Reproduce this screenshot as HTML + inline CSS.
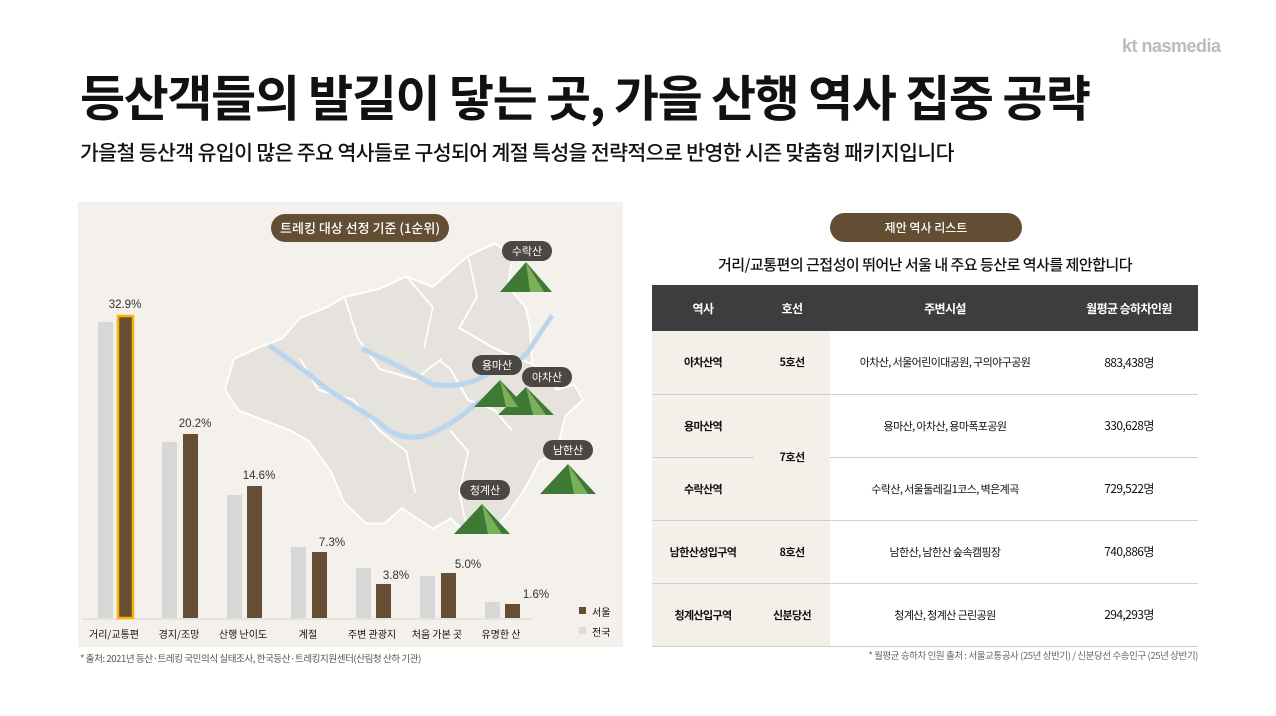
<!DOCTYPE html>
<html><head><meta charset="utf-8">
<style>
*{margin:0;padding:0;box-sizing:border-box}
body{width:1276px;height:716px;background:#fff;font-family:"Liberation Sans","Noto Sans CJK KR",sans-serif;position:relative;overflow:hidden;color:#111}
.abs{position:absolute}
.t{white-space:nowrap}
.title{left:80px;top:65px;font-size:49px;font-weight:bold;letter-spacing:-1.4px;color:#111;font-family:"Noto Sans CJK KR",sans-serif;line-height:62px}
.sub{left:80px;top:137px;font-size:20.5px;letter-spacing:-0.6px;font-family:"Noto Sans CJK KR",sans-serif;font-weight:500;color:#111;line-height:28px}
.logo{left:1122px;top:36px;font-size:18px;color:#bbb;font-weight:bold;letter-spacing:-0.5px}
.panel{left:78px;top:202px;width:545px;height:445px;background:#f4f0eb}
.pill{background:#644e33;color:#fff;border-radius:15px;text-align:center;font-family:"Noto Sans CJK KR",sans-serif;font-weight:500}
.tag{background:#4a4744;color:#fff;border-radius:10px;text-align:center;font-size:11px;font-family:"Noto Sans CJK KR",sans-serif;height:20px;line-height:20px;width:50px}
.xl{font-size:10px;font-family:"Noto Sans CJK KR",sans-serif;text-align:center;width:64px;top:626px}
.val{font-size:11.5px;color:#333;width:50px;text-align:center}
table{border-collapse:collapse;position:absolute;left:652px;top:285px;width:546px;font-family:"Noto Sans CJK KR",sans-serif;font-size:11px;letter-spacing:-0.6px}
th{background:#3d3d3d;color:#fff;height:46px;font-weight:bold;font-size:12px}
td{height:63px;text-align:center;border-bottom:1px solid #cfcfcf}
td.b{background:#f3efe9;font-weight:bold}
</style></head><body>
<div class="abs t logo">kt nasmedia</div>
<div class="abs t title">등산객들의 발길이 닿는 곳, 가을 산행 역사 집중 공략</div>
<div class="abs t sub">가을철 등산객 유입이 많은 주요 역사들로 구성되어 계절 특성을 전략적으로 반영한 시즌 맞춤형 패키지입니다</div>

<div class="abs panel"></div>
<svg class="abs" style="left:78px;top:202px" width="545" height="445">
<g transform="translate(125,-8) scale(0.884,1.03)">
<g fill="#e6e2dd" stroke="#fff" stroke-width="2">
<path d="M300 60 L330 48 L350 60 L345 90 L365 110 L370 130 L372 165 L390 175 L400 190 L420 185 L430 200 L410 215 L400 250 L380 260 L365 285 L345 310 L330 325 L300 330 L280 315 L260 325 L225 305 L205 320 L185 320 L160 300 L145 270 L120 240 L100 230 L70 220 L40 210 L25 190 L35 160 L60 150 L90 140 L110 120 L140 110 L160 100 L200 92 L230 80 L260 90 L280 75 Z"/>
<path d="M230 80 L260 110 L250 150 L280 170 L300 200 L330 210 L350 230"/>
<path d="M160 100 L175 140 L200 170 L240 180 L270 160"/>
<path d="M110 160 L130 190 L170 200 L200 230 L230 250 L240 290"/>
<path d="M300 60 L310 100 L290 130 L330 150 L372 165"/>
<path d="M280 230 L300 250 L290 290 L300 330"/>
</g>
<path d="M180 150 Q240 175 260 185 Q300 190 330 170 Q360 165 370 150 Q385 130 395 118" fill="none" stroke="#b9d6ee" stroke-width="5"/>
<path d="M75 147 L120 175 Q140 190 160 200 L200 222 Q220 240 250 235" fill="none" stroke="#b9d6ee" stroke-width="5"/>
<path d="M250 235 Q280 225 300 210 Q320 195 340 195" fill="none" stroke="#b9d6ee" stroke-width="5"/>
</g>
<rect x="193" y="12" width="178" height="28" rx="14" fill="#644e33"/>
<g fill="#3f7a35">
<polygon points="422,90 448,60 474,90"/><polygon points="396,205 422,178 448,205"/><polygon points="420,213 448,185 476,213"/><polygon points="462,292 490,262 518,292"/><polygon points="376,332 404,302 432,332"/>
</g>
<g fill="#7bb05a">
<polygon points="448,60 466,90 452,90"/><polygon points="422,178 440,205 428,205"/><polygon points="448,185 468,213 455,213"/><polygon points="490,262 510,292 496,292"/><polygon points="404,302 424,332 410,332"/>
</g>
<line x1="4" y1="417" x2="455" y2="417" stroke="#d8d4cf" stroke-width="1"/>
<g fill="#d7d7d7">
<rect x="20" y="120" width="15" height="296"/><rect x="84" y="240" width="15" height="176"/><rect x="149" y="293" width="15" height="123"/><rect x="213" y="345" width="15" height="71"/><rect x="278" y="366" width="15" height="50"/><rect x="342" y="374" width="15" height="42"/><rect x="407" y="400" width="15" height="16"/>
</g>
<g fill="#654e33">
<rect x="40" y="114" width="15" height="302" stroke="#f7b500" stroke-width="2.5"/><rect x="105" y="232" width="15" height="184"/><rect x="169" y="284" width="15" height="132"/><rect x="234" y="350" width="15" height="66"/><rect x="298" y="382" width="15" height="34"/><rect x="363" y="371" width="15" height="45"/><rect x="427" y="402" width="15" height="14"/>
</g>
<rect x="501" y="405" width="7" height="7" fill="#654e33"/><rect x="501" y="425" width="7" height="7" fill="#dcdcdc"/>
</svg>
<div class="abs t pill" style="left:271px;top:214px;width:178px;height:28px;line-height:28px;font-size:13px;background:transparent">트레킹 대상 선정 기준 (1순위)</div>
<div class="abs t tag" style="left:502px;top:241px">수락산</div>
<div class="abs t tag" style="left:472px;top:355px">용마산</div>
<div class="abs t tag" style="left:522px;top:367px">아차산</div>
<div class="abs t tag" style="left:543px;top:440px">남한산</div>
<div class="abs t tag" style="left:460px;top:480px">청계산</div>

<div class="abs t val" style="left:100px;top:299px">32.9%</div>
<div class="abs t val" style="left:170px;top:418px">20.2%</div>
<div class="abs t val" style="left:234px;top:470px">14.6%</div>
<div class="abs t val" style="left:307px;top:537px">7.3%</div>
<div class="abs t val" style="left:371px;top:570px">3.8%</div>
<div class="abs t val" style="left:443px;top:559px">5.0%</div>
<div class="abs t val" style="left:511px;top:589px">1.6%</div>

<div class="abs t xl" style="left:82px">거리/교통편</div>
<div class="abs t xl" style="left:147px">경지/조망</div>
<div class="abs t xl" style="left:211px">산행 난이도</div>
<div class="abs t xl" style="left:276px">계절</div>
<div class="abs t xl" style="left:340px">주변 관광지</div>
<div class="abs t xl" style="left:405px">처음 가본 곳</div>
<div class="abs t xl" style="left:469px">유명한 산</div>
<div class="abs t" style="left:592px;top:604px;font-size:10px;font-family:'Noto Sans CJK KR',sans-serif">서울</div>
<div class="abs t" style="left:592px;top:624px;font-size:10px;font-family:'Noto Sans CJK KR',sans-serif">전국</div>
<div class="abs t" style="left:80px;top:651px;font-size:9.5px;color:#555;font-family:'Noto Sans CJK KR',sans-serif;letter-spacing:-0.4px">* 출처: 2021년 등산·트레킹 국민의식 실태조사, 한국등산·트레킹지원센터(산림청 산하 기관)</div>

<div class="abs t pill" style="left:830px;top:213px;width:192px;height:29px;line-height:29px;font-size:12px">제안 역사 리스트</div>
<div class="abs t" style="left:652px;top:254px;width:546px;text-align:center;font-size:15px;font-family:'Noto Sans CJK KR',sans-serif;font-weight:500;letter-spacing:-0.5px">거리/교통편의 근접성이 뛰어난 서울 내 주요 등산로 역사를 제안합니다</div>
<table>
<tr><th style="width:102px">역사</th><th style="width:76px">호선</th><th style="width:230px">주변시설</th><th>월평균 승하차인원</th></tr>
<tr><td class="b">아차산역</td><td class="b">5호선</td><td>아차산, 서울어린이대공원, 구의야구공원</td><td style="font-size:12px">883,438명</td></tr>
<tr><td class="b">용마산역</td><td class="b" rowspan="2" style="border-bottom:1px solid #cfcfcf">7호선</td><td>용마산, 아차산, 용마폭포공원</td><td style="font-size:12px">330,628명</td></tr>
<tr><td class="b">수락산역</td><td>수락산, 서울둘레길1코스, 벽은계곡</td><td style="font-size:12px">729,522명</td></tr>
<tr><td class="b">남한산성입구역</td><td class="b">8호선</td><td>남한산, 남한산 숲속캠핑장</td><td style="font-size:12px">740,886명</td></tr>
<tr><td class="b">청계산입구역</td><td class="b">신분당선</td><td>청계산, 청계산 근린공원</td><td style="font-size:12px">294,293명</td></tr>
</table>
<div class="abs t" style="left:652px;top:648px;width:546px;text-align:right;font-size:9.5px;color:#666;font-family:'Noto Sans CJK KR',sans-serif;letter-spacing:-0.4px">* 월평균 승하차 인원 출처 : 서울교통공사 (25년 상반기) / 신분당선 수송인구 (25년 상반기)</div>
</body></html>
